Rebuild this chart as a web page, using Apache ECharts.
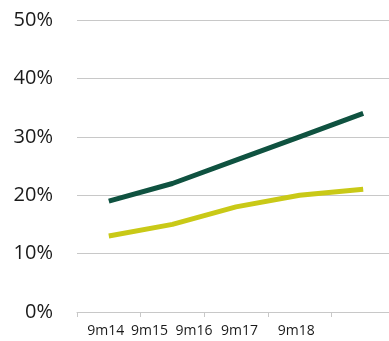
<!DOCTYPE html>
<html>
<head>
<meta charset="utf-8">
<script src="https://cdn.jsdelivr.net/npm/echarts@6/dist/echarts.min.js"></script>
<style>
  html, body { margin: 0; padding: 0; background: #fff; }
  #chart { width: 389px; height: 341px; }
</style>
</head>
<body>
<div id="chart"></div>
<script>
// categories and values (percent)
var categories = ['9m14', '9m15', '9m16', '9m17', '9m18'];
var darkSeries = [19, 22, 26, 30, 34];
var lightSeries = [13, 15, 18, 20, 21];
var yTicks = [0, 10, 20, 30, 40, 50];

// labels in the original sit left of their category centres
var labelShift = [-3, -23, -42, -60, -67];

var dom = document.getElementById('chart');
var myChart = echarts.init(dom);

var rich = {};
for (var i = 0; i < labelShift.length; i++) {
    rich['l' + i] = {
        fontFamily: 'Open Sans',
        fontSize: 14,
        color: '#1a1a1a',
        padding: [0, -2 * labelShift[i], 0, 0]
    };
}

var option = {
    animation: false,
    grid: {
        left: 77,
        width: 318,
        top: 20,
        bottom: 29,
        containLabel: false,
        outerBoundsMode: 'none'
    },
    xAxis: {
        type: 'category',
        boundaryGap: true,
        data: categories,
        axisLine: { lineStyle: { color: '#c8c8c8', width: 1 } },
        axisTick: { show: true, length: 5, lineStyle: { color: '#c8c8c8' } },
        axisLabel: {
            margin: 12,
            interval: 0,
            formatter: function (val, idx) {
                return '{l' + idx + '|' + val + '}';
            },
            rich: rich
        },
        splitLine: { show: false }
    },
    yAxis: {
        type: 'value',
        min: yTicks[0],
        max: yTicks[yTicks.length - 1],
        interval: 10,
        axisLine: { show: false },
        axisTick: { show: false },
        axisLabel: {
            margin: 24,
            fontFamily: 'Open Sans',
            fontSize: 20,
            color: '#1a1a1a',
            formatter: '{value}%'
        },
        splitLine: { lineStyle: { color: '#c8c8c8', width: 1 } }
    },
    series: [
        {
            name: 'dark',
            type: 'line',
            data: darkSeries,
            symbol: 'none',
            lineStyle: { color: '#0f5240', width: 5, cap: 'butt' }
        },
        {
            name: 'light',
            type: 'line',
            data: lightSeries,
            symbol: 'none',
            lineStyle: { color: '#c9c917', width: 5, cap: 'butt' }
        }
    ]
};

myChart.setOption(option, true);
</script>
</body>
</html>
